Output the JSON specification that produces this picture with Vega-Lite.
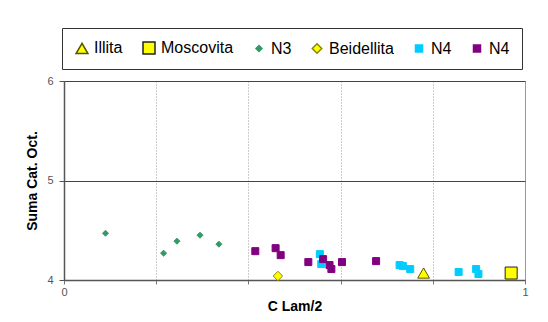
{
  "$schema": "https://vega.github.io/schema/vega-lite/v6.json",
  "width": 461,
  "height": 199,
  "autosize": {"type": "none"},
  "padding": {"left": 64, "top": 81, "right": 23, "bottom": 42},
  "background": "white",
  "config": {
    "font": "Liberation Sans",
    "view": {"stroke": "#999999", "strokeWidth": 1}
  },
  "data": {
    "values": [
      {"serie": "Illita", "clam": 0.780, "suma": 4.07},
      {"serie": "Moscovita", "clam": 0.970, "suma": 4.07},
      {"serie": "N3", "clam": 0.090, "suma": 4.47},
      {"serie": "N3", "clam": 0.216, "suma": 4.27},
      {"serie": "N3", "clam": 0.245, "suma": 4.39},
      {"serie": "N3", "clam": 0.295, "suma": 4.45},
      {"serie": "N3", "clam": 0.336, "suma": 4.36},
      {"serie": "Beidellita", "clam": 0.464, "suma": 4.04},
      {"serie": "N4a", "clam": 0.555, "suma": 4.26},
      {"serie": "N4a", "clam": 0.558, "suma": 4.16},
      {"serie": "N4a", "clam": 0.728, "suma": 4.15},
      {"serie": "N4a", "clam": 0.735, "suma": 4.14},
      {"serie": "N4a", "clam": 0.751, "suma": 4.11},
      {"serie": "N4a", "clam": 0.856, "suma": 4.08},
      {"serie": "N4a", "clam": 0.894, "suma": 4.11},
      {"serie": "N4a", "clam": 0.899, "suma": 4.06},
      {"serie": "N4b", "clam": 0.415, "suma": 4.29},
      {"serie": "N4b", "clam": 0.459, "suma": 4.32},
      {"serie": "N4b", "clam": 0.470, "suma": 4.25},
      {"serie": "N4b", "clam": 0.530, "suma": 4.18},
      {"serie": "N4b", "clam": 0.562, "suma": 4.21},
      {"serie": "N4b", "clam": 0.576, "suma": 4.15},
      {"serie": "N4b", "clam": 0.580, "suma": 4.11},
      {"serie": "N4b", "clam": 0.603, "suma": 4.18},
      {"serie": "N4b", "clam": 0.677, "suma": 4.19}
    ]
  },
  "mark": {"type": "point", "filled": true, "opacity": 1, "strokeWidth": 1},
  "encoding": {
    "x": {
      "field": "clam", "type": "quantitative", "title": "C Lam/2",
      "scale": {"domain": [0, 1], "nice": false, "zero": false},
      "axis": {
        "values": [0, 0.2, 0.4, 0.6, 0.8, 1],
        "labelExpr": "datum.value == 0 ? '0' : (datum.value == 1 ? '1' : '')",
        "labelFlush": false,
        "grid": true, "gridColor": "#999999", "gridDash": [1, 2], "gridWidth": 1,
        "domainColor": "#555555", "domainWidth": 1.5,
        "tickColor": "#777777", "tickSize": 4,
        "labelFontSize": 11, "labelColor": "#555555", "labelPadding": 2,
        "titleFontSize": 14, "titleFontWeight": "bold", "titleColor": "#000000", "titlePadding": 2
      }
    },
    "y": {
      "field": "suma", "type": "quantitative", "title": "Suma Cat. Oct.",
      "scale": {"domain": [4, 6], "nice": false, "zero": false},
      "axis": {
        "values": [4, 5, 6],
        "labelExpr": "format(datum.value, '.0f')",
        "labelFlush": false,
        "grid": true, "gridColor": "#444444", "gridWidth": 1,
        "domainColor": "#555555", "domainWidth": 1.5,
        "tickColor": "#555555", "tickSize": 5,
        "labelFontSize": 11, "labelColor": "#555555", "labelPadding": 6,
        "titleFontSize": 14, "titleFontWeight": "bold", "titleColor": "#000000", "titlePadding": 7
      }
    },
    "shape": {
      "field": "serie", "type": "nominal",
      "scale": {
        "domain": ["Illita", "Moscovita", "N3", "Beidellita", "N4a", "N4b"],
        "range": ["triangle-up", "square", "diamond", "diamond", "square", "square"]
      },
      "legend": null
    },
    "fill": {
      "field": "serie", "type": "nominal",
      "scale": {
        "domain": ["Illita", "Moscovita", "N3", "Beidellita", "N4a", "N4b"],
        "range": ["#FFFF00", "#FFFF00", "#339966", "#FFFF00", "#00CCFF", "#800080"]
      },
      "legend": null
    },
    "stroke": {
      "field": "serie", "type": "nominal",
      "scale": {
        "domain": ["Illita", "Moscovita", "N3", "Beidellita", "N4a", "N4b"],
        "range": ["#555500", "#222222", "#339966", "#888800", "#00CCFF", "#800080"]
      },
      "legend": null
    },
    "size": {
      "field": "serie", "type": "nominal",
      "scale": {
        "type": "ordinal",
        "domain": ["Illita", "Moscovita", "N3", "Beidellita", "N4a", "N4b"],
        "range": [140, 144, 36, 90, 49, 49]
      },
      "legend": {
        "title": null,
        "orient": "none", "legendX": -2, "legendY": -53,
        "direction": "horizontal", "columns": 6,
        "strokeColor": "#333333", "fillColor": "white", "padding": 12,
        "columnPadding": 17, "labelOffset": 4,
        "labelFontSize": 16, "labelColor": "#000000",
        "labelExpr": "datum.label == 'N4a' || datum.label == 'N4b' ? 'N4' : datum.label"
      }
    }
  }
}
